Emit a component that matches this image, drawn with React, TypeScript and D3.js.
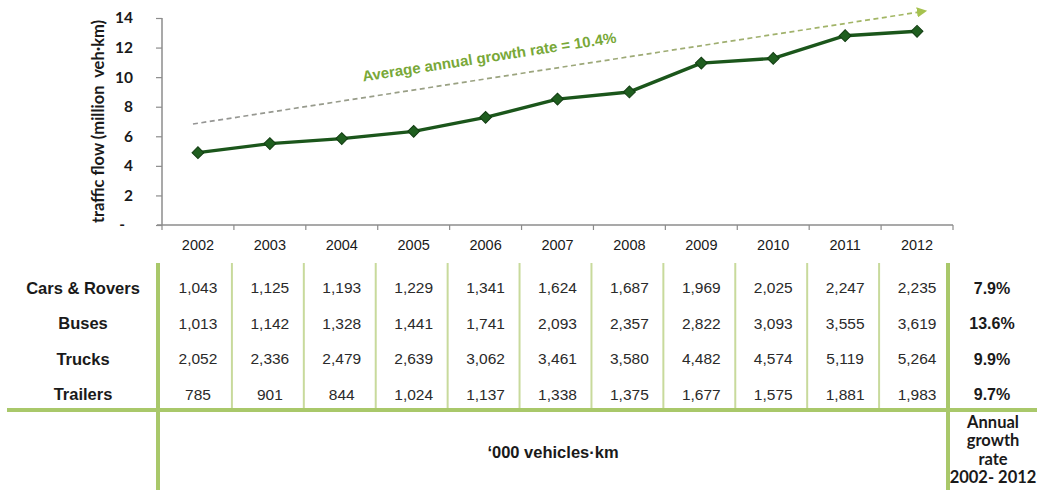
import React, { useEffect, useRef } from "react";
import * as d3 from "d3";

const years = ["2002","2003","2004","2005","2006","2007","2008","2009","2010","2011","2012"];
const rowLabels = ["Cars & Rovers", "Buses", "Trucks", "Trailers"];
const carsRovers = [1043, 1125, 1193, 1229, 1341, 1624, 1687, 1969, 2025, 2247, 2235];
const buses = [1013, 1142, 1328, 1441, 1741, 2093, 2357, 2822, 3093, 3555, 3619];
const trucks = [2052, 2336, 2479, 2639, 3062, 3461, 3580, 4482, 4574, 5119, 5264];
const trailers = [785, 901, 844, 1024, 1137, 1338, 1375, 1677, 1575, 1881, 1983];
const growthRates = ["7.9%", "13.6%", "9.9%", "9.7%"];
const yTicks = [0, 2, 4, 6, 8, 10, 12, 14];
const trendEnds = [6.83, 14.4];
const annotation = "Average annual growth rate = 10.4%";
const yTitle = "traffic flow (million  veh\u00b7km)";
const unitLabel = "\u2018000 vehicles\u00b7km";
const growthHeader = ["Annual", "growth", "rate", "2002- 2012"];

export default function App() {
  const ref = useRef<SVGSVGElement>(null);

  useEffect(() => {
    document.body.style.margin = "0";
    const svg = d3.select(ref.current);
    svg.selectAll("*").remove();

    const W = 1037, H = 490;
    const x = d3.scaleBand<string>().domain(years).range([162, 953]).padding(0);
    const y = d3.scaleLinear().domain([0, 14]).range([225, 18]);
    const cx = (yr: string) => (x(yr) as number) + x.bandwidth() / 2;

    svg.append("rect").attr("width", W).attr("height", H).attr("fill", "#fff");

    const defs = svg.append("defs");
    const grad = defs.append("linearGradient").attr("id", "trendGrad")
      .attr("gradientUnits", "userSpaceOnUse")
      .attr("x1", cx(years[0])).attr("x2", cx(years[years.length - 1])).attr("y1", 0).attr("y2", 0);
    grad.append("stop").attr("offset", "0%").attr("stop-color", "#959595");
    grad.append("stop").attr("offset", "100%").attr("stop-color", "#a3b862");
    defs.append("marker").attr("id", "arrow").attr("viewBox", "0 0 10 10")
      .attr("refX", 2).attr("refY", 5).attr("markerWidth", 6).attr("markerHeight", 6)
      .attr("orient", "auto").attr("markerUnits", "strokeWidth")
      .append("path").attr("d", "M0,0 L10,5 L0,10 z").attr("fill", "#a6c24e");

    // Y axis
    const yAxis = d3.axisLeft(y).tickValues(yTicks)
      .tickFormat((d: any) => (d === 0 ? "-" : String(d)))
      .tickSize(6).tickSizeOuter(0).tickPadding(23);
    const gy = svg.append("g").attr("transform", "translate(162,0)").call(yAxis as any);
    gy.select(".domain").attr("stroke", "#8c8c8c").attr("stroke-width", 1.5).attr("d", `M0,${y(14)}V${y(0)}`);
    gy.selectAll(".tick line").attr("stroke", "#8c8c8c").attr("stroke-width", 1.2);
    gy.selectAll(".tick text").attr("font-family", "Lato, 'Open Sans', sans-serif")
      .attr("font-weight", "bold").attr("font-size", 15.5).attr("fill", "#1a1a1a")
      .attr("dx", (d: any) => (d === 0 ? -8 : 0));

    // Y title
    svg.append("text").attr("transform", `translate(98,${(y(0) + y(14)) / 2}) rotate(-90)`)
      .attr("dy", "0.35em")
      .attr("text-anchor", "middle").attr("font-family", "Lato, 'Open Sans', sans-serif")
      .attr("font-weight", "bold").attr("font-size", 16.5).attr("fill", "#1a1a1a")
      .attr("xml:space", "preserve").style("white-space", "pre").text(yTitle);

    // X axis
    const xAxis = d3.axisBottom(x).tickSize(0).tickPadding(15);
    const gx = svg.append("g").attr("transform", `translate(0,${y(0)})`).call(xAxis as any);
    gx.select(".domain").attr("stroke", "#8c8c8c").attr("stroke-width", 1.5).attr("d", `M157,0H953`);
    gx.selectAll(".tick text").attr("font-family", "'Liberation Sans', Arial, sans-serif")
      .attr("font-size", 14.5).attr("fill", "#1a1a1a");
    const bounds = years.map((yr) => x(yr) as number).concat([x.range()[1]]);
    gx.selectAll(".btick").data(bounds).enter().append("line")
      .attr("x1", (d) => d).attr("x2", (d) => d).attr("y1", 0).attr("y2", 5)
      .attr("stroke", "#8c8c8c").attr("stroke-width", 1.2);

    // Trend arrow
    const x0 = cx(years[0]) - 5;
    const x1 = cx(years[years.length - 1]) + 2;
    svg.append("line").attr("x1", x0).attr("y1", y(trendEnds[0]))
      .attr("x2", x1).attr("y2", y(trendEnds[1]))
      .attr("stroke", "url(#trendGrad)").attr("stroke-width", 1.7)
      .attr("stroke-dasharray", "5,3.5").attr("marker-end", "url(#arrow)");

    const angle = Math.atan2(y(trendEnds[1]) - y(trendEnds[0]), x1 - x0) * 180 / Math.PI;
    svg.append("text").attr("transform", `translate(490,62) rotate(${angle})`)
      .attr("text-anchor", "middle").attr("font-family", "'Liberation Sans', Arial, sans-serif")
      .attr("font-weight", "bold").attr("font-size", 15).attr("fill", "#78a838").text(annotation);

    // Total line
    const series = [carsRovers, buses, trucks, trailers];
    const totals = years.map((yr, i) => ({ yr, v: d3.sum(series, (s) => s[i]) / 1000 }));
    const line = d3.line<{ yr: string; v: number }>().x((d) => cx(d.yr)).y((d) => y(d.v));
    svg.append("path").datum(totals).attr("d", line).attr("fill", "none")
      .attr("stroke", "#1b561b").attr("stroke-width", 3.4).attr("stroke-linejoin", "round");
    const sym = d3.symbol().type(d3.symbolSquare).size(70);
    svg.selectAll(".pt").data(totals).enter().append("path")
      .attr("d", sym as any)
      .attr("transform", (d) => `translate(${cx(d.yr)},${y(d.v)}) rotate(45)`)
      .attr("fill", "#1f5e1f").attr("stroke", "#123d12").attr("stroke-width", 1);

    // Table grid
    const tableTop = 263, hLine = 410;
    const lastBound = x.range()[1] - 5;
    const inner = bounds.slice(1, bounds.length - 1);
    svg.selectAll(".vthin").data(inner).enter().append("line")
      .attr("x1", (d) => d - 2).attr("x2", (d) => d - 2).attr("y1", tableTop).attr("y2", hLine)
      .attr("stroke", "#c8da9c").attr("stroke-width", 2);
    const thick = "#a9c86a";
    svg.append("line").attr("x1", 158).attr("x2", 158).attr("y1", tableTop).attr("y2", H)
      .attr("stroke", thick).attr("stroke-width", 4);
    svg.append("line").attr("x1", lastBound).attr("x2", lastBound).attr("y1", tableTop).attr("y2", H)
      .attr("stroke", thick).attr("stroke-width", 4);
    svg.append("line").attr("x1", 7).attr("x2", W).attr("y1", hLine).attr("y2", hLine)
      .attr("stroke", thick).attr("stroke-width", 4);

    const rowY = d3.scaleBand<string>().domain(rowLabels).range([270, 412]);
    const ry = (l: string) => (rowY(l) as number) + rowY.bandwidth() / 2;

    svg.selectAll(".rlab").data(rowLabels).enter().append("text")
      .attr("x", 83).attr("y", (d) => ry(d)).attr("dy", "0.36em")
      .attr("text-anchor", "middle").attr("font-family", "'Liberation Sans', Arial, sans-serif")
      .attr("font-weight", "bold").attr("font-size", 16.5).attr("fill", "#1a1a1a").text((d) => d);

    const fmt = d3.format(",");
    series.forEach((s, ri) => {
      svg.selectAll(`.v${ri}`).data(s).enter().append("text")
        .attr("x", (d, i) => cx(years[i])).attr("y", ry(rowLabels[ri])).attr("dy", "0.36em")
        .attr("text-anchor", "middle").attr("font-family", "'Liberation Sans', Arial, sans-serif")
        .attr("font-size", 15.5).attr("fill", "#2a2a2a").text((d) => fmt(d));
    });

    svg.selectAll(".gr").data(growthRates).enter().append("text")
      .attr("x", 992).attr("y", (d, i) => ry(rowLabels[i])).attr("dy", "0.36em")
      .attr("text-anchor", "middle").attr("font-family", "'Liberation Sans', Arial, sans-serif")
      .attr("font-weight", "bold").attr("font-size", 16).attr("fill", "#1a1a1a").text((d) => d);

    svg.append("text").attr("x", 553).attr("y", 452).attr("dy", "0.36em")
      .attr("text-anchor", "middle").attr("font-family", "'Liberation Sans', Arial, sans-serif")
      .attr("font-weight", "bold").attr("font-size", 16.5).attr("fill", "#1a1a1a").text(unitLabel);

    svg.selectAll(".gh").data(growthHeader).enter().append("text")
      .attr("x", 993).attr("y", (d, i) => 422 + i * 18.5).attr("dy", "0.36em")
      .attr("text-anchor", "middle").attr("font-family", "Lato, 'Open Sans', sans-serif")
      .attr("font-weight", "bold").attr("font-size", 16.5).attr("fill", "#1a1a1a").text((d) => d);
  }, []);

  return <svg ref={ref} width={1037} height={490} style={{ display: "block" }} />;
}
